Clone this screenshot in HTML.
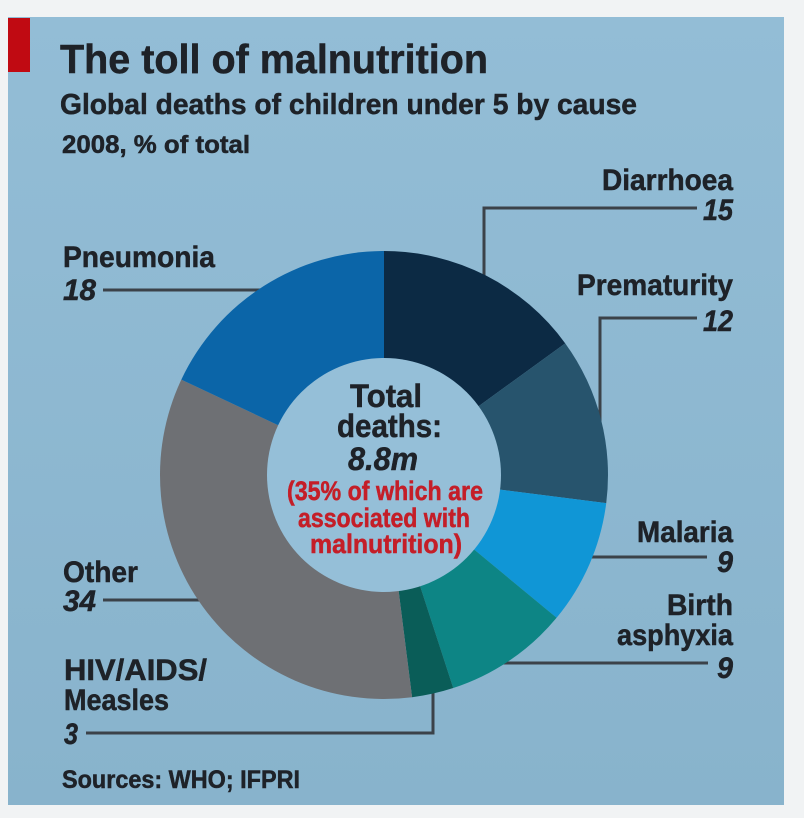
<!DOCTYPE html>
<html><head><meta charset="utf-8"><style>
html,body{margin:0;padding:0;background:#f1f3f4;}
svg{display:block;}
text{font-family:"Liberation Sans",sans-serif;font-weight:bold;fill:#1e2228;stroke:#1e2228;stroke-width:0.5px;}
text.red{fill:#c41e28;stroke:#c41e28;}
</style></head><body>
<svg width="804" height="818" viewBox="0 0 804 818" xmlns="http://www.w3.org/2000/svg">
<defs>
<linearGradient id="bg" x1="0" y1="0" x2="0" y2="1">
<stop offset="0" stop-color="#93bdd6"/>
<stop offset="1" stop-color="#88b3cc"/>
</linearGradient>
</defs>
<rect x="0" y="0" width="804" height="818" fill="#f1f3f4"/>
<rect x="8" y="17" width="776" height="788" fill="url(#bg)"/>
<rect x="8" y="18" width="22" height="54" fill="#c00a12"/>

<text x="60" y="73" font-size="41" textLength="428" lengthAdjust="spacingAndGlyphs">The toll of malnutrition</text>
<text x="60" y="114" font-size="29" textLength="577" lengthAdjust="spacingAndGlyphs">Global deaths of children under 5 by cause</text>
<text x="62" y="153" font-size="25" textLength="188" lengthAdjust="spacingAndGlyphs">2008, % of total</text>

<g stroke="#3b4249" stroke-width="3" fill="none">
<polyline points="484,280 484,208 697,208"/>
<polyline points="697,318 600,318 600,440"/>
<polyline points="585,557 707,557"/>
<polyline points="500,663 708,663"/>
<polyline points="86,733 433,733 433,690"/>
<polyline points="103,600 205,600"/>
<polyline points="103,290 265,290"/>
</g>

<g>
<path d="M384,475 L384,251 A224,224 0 0 1 565.22,343.34 Z" fill="#0c2a44"/>
<path d="M384,475 L565.22,343.34 A224,224 0 0 1 606.23,503.07 Z" fill="#27546d"/>
<path d="M384,475 L606.23,503.07 A224,224 0 0 1 556.59,617.78 Z" fill="#1096d6"/>
<path d="M384,475 L556.59,617.78 A224,224 0 0 1 453.22,688.04 Z" fill="#0d8585"/>
<path d="M384,475 L453.22,688.04 A224,224 0 0 1 412.07,697.23 Z" fill="#0a5d58"/>
<path d="M384,475 L412.07,697.23 A224,224 0 0 1 181.32,379.63 Z" fill="#6e7074"/>
<path d="M384,475 L181.32,379.63 A224,224 0 0 1 384,251 Z" fill="#0b65a8"/>
<circle cx="384" cy="475" r="117" fill="#95bfd8"/>
</g>

<text x="350" y="407" font-size="32" textLength="72" lengthAdjust="spacingAndGlyphs">Total</text>
<text x="337" y="437" font-size="32" textLength="105" lengthAdjust="spacingAndGlyphs">deaths:</text>
<text x="348" y="470" font-size="32" font-style="italic" textLength="70" lengthAdjust="spacingAndGlyphs">8.8m</text>
<text class="red" x="287" y="500" font-size="27" textLength="196" lengthAdjust="spacingAndGlyphs">(35% of which are</text>
<text class="red" x="298" y="527" font-size="27" textLength="172" lengthAdjust="spacingAndGlyphs">associated with</text>
<text class="red" x="310" y="553" font-size="27" textLength="152" lengthAdjust="spacingAndGlyphs">malnutrition)</text>

<text x="602" y="190" font-size="30" textLength="131" lengthAdjust="spacingAndGlyphs">Diarrhoea</text>
<text x="703" y="220" font-size="30" font-style="italic" textLength="30" lengthAdjust="spacingAndGlyphs">15</text>
<text x="577" y="295" font-size="30" textLength="156" lengthAdjust="spacingAndGlyphs">Prematurity</text>
<text x="703" y="331" font-size="30" font-style="italic" textLength="30" lengthAdjust="spacingAndGlyphs">12</text>
<text x="637" y="542" font-size="30" textLength="96" lengthAdjust="spacingAndGlyphs">Malaria</text>
<text x="717" y="572" font-size="30" font-style="italic" textLength="16" lengthAdjust="spacingAndGlyphs">9</text>
<text x="667" y="615" font-size="30" textLength="66" lengthAdjust="spacingAndGlyphs">Birth</text>
<text x="617" y="645" font-size="30" textLength="116" lengthAdjust="spacingAndGlyphs">asphyxia</text>
<text x="717" y="678" font-size="30" font-style="italic" textLength="16" lengthAdjust="spacingAndGlyphs">9</text>

<text x="63" y="267" font-size="30" textLength="152" lengthAdjust="spacingAndGlyphs">Pneumonia</text>
<text x="63" y="300" font-size="30" font-style="italic" textLength="33" lengthAdjust="spacingAndGlyphs">18</text>
<text x="63" y="582" font-size="30" textLength="75" lengthAdjust="spacingAndGlyphs">Other</text>
<text x="63" y="611" font-size="30" font-style="italic" textLength="33" lengthAdjust="spacingAndGlyphs">34</text>
<text x="64" y="680" font-size="30" textLength="143" lengthAdjust="spacingAndGlyphs">HIV/AIDS/</text>
<text x="64" y="710" font-size="30" textLength="105" lengthAdjust="spacingAndGlyphs">Measles</text>
<text x="64" y="744" font-size="30" font-style="italic" textLength="14" lengthAdjust="spacingAndGlyphs">3</text>
<text x="62" y="788" font-size="25" textLength="238" lengthAdjust="spacingAndGlyphs">Sources: WHO; IFPRI</text>
</svg>
</body></html>
